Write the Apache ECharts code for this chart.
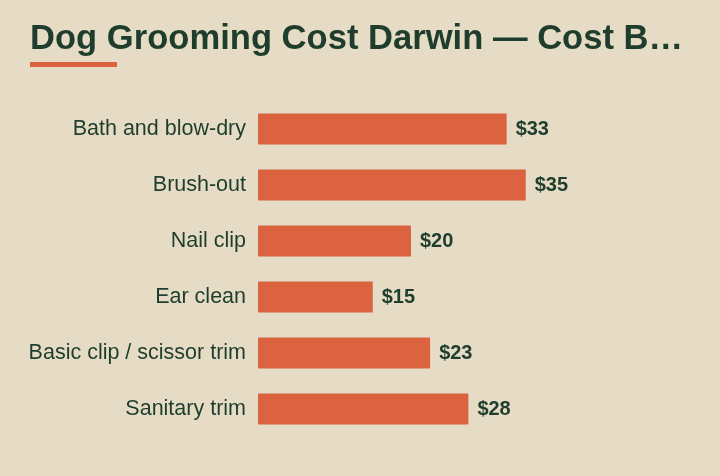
<!DOCTYPE html>
<html><head><meta charset="utf-8">
<script src="https://cdn.jsdelivr.net/npm/echarts@6/dist/echarts.min.js"></script>
<style>html,body{margin:0;padding:0;background:#e6dcc5}#c{width:720px;height:476px}</style>
</head><body><div id="c"></div>
<script>
const titleText = "Dog Grooming Cost Darwin — Cost Breakdown by Service";
const categories = ["Bath and blow-dry","Brush-out","Nail clip","Ear clean","Basic clip / scissor trim","Sanitary trim"];
const costs = [32.5, 35, 20, 15, 22.5, 27.5];
const costLabels = ["$33","$35","$20","$15","$23","$28"];

const chart = echarts.init(document.getElementById('c'));
chart.setOption({
  backgroundColor: '#e6dcc5',
  animation: false,
  title: {
    text: titleText, left: 30, top: 22, padding: 0,
    textStyle: {fontFamily: 'Liberation Sans', fontWeight: 'bold', fontSize: 34.6, color: '#1e3d2c', width: 660, overflow: 'truncate', ellipsis: '…'}
  },
  graphic: [{type: 'rect', shape: {x: 30, y: 62, width: 87, height: 5}, style: {fill: '#db6340'}}],
  grid: {left: 258, right: 156, top: 101, bottom: 39},
  xAxis: {type: 'value', min: 0, max: 40, show: false},
  yAxis: {
    type: 'category', data: categories, inverse: true,
    axisLine: {show: false}, axisTick: {show: false},
    axisLabel: {margin: 12, fontFamily: 'Liberation Sans', fontSize: 21.5, color: '#1e3d2c'}
  },
  series: [{
    type: 'bar', data: costs, barWidth: 31,
    itemStyle: {color: '#db6340'},
    label: {show: true, position: 'right', distance: 9, fontFamily: 'Liberation Sans', fontWeight: 'bold', fontSize: 20, color: '#1e3d2c',
      formatter: p => costLabels[p.dataIndex]}
  }]
});
</script></body></html>
